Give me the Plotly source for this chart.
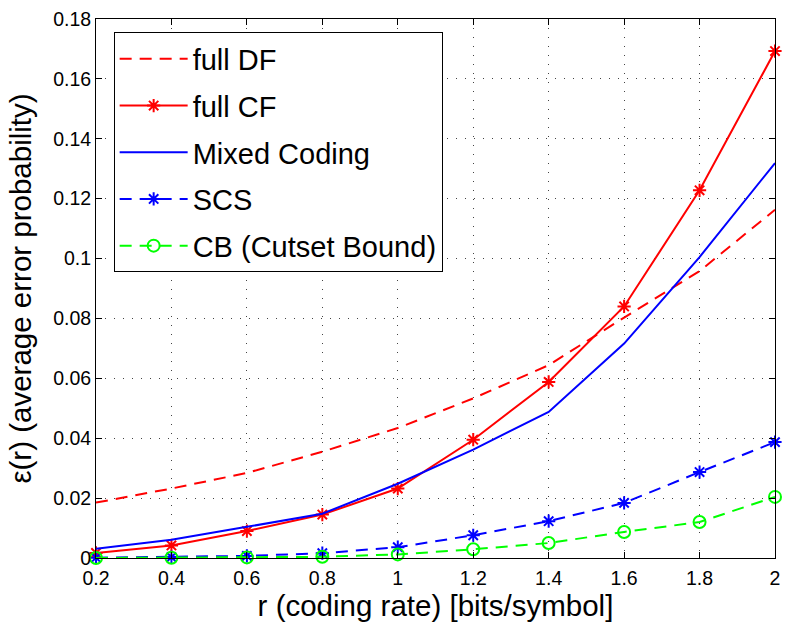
import plotly.graph_objects as go

rate = [0.2, 0.4, 0.6, 0.8, 1.0, 1.2, 1.4, 1.6, 1.8, 2.0]
full_df = [0.0185, 0.0232, 0.0284, 0.0355, 0.0434, 0.0533, 0.0644, 0.0803, 0.0958, 0.1163]
full_cf = [0.0017, 0.0042, 0.0090, 0.0145, 0.0232, 0.0395, 0.0588, 0.0840, 0.1228, 0.1693]
mixed = [0.0031, 0.0061, 0.0104, 0.0148, 0.0248, 0.0362, 0.0488, 0.0716, 0.1005, 0.1319]
scs = [0.0001, 0.0003, 0.0007, 0.0016, 0.0036, 0.0076, 0.0123, 0.0184, 0.0287, 0.0387]
cb = [0.0000, 0.0001, 0.0002, 0.0004, 0.0012, 0.0029, 0.0050, 0.0087, 0.0120, 0.0204]

x_ticks = [0.2, 0.4, 0.6, 0.8, 1.0, 1.2, 1.4, 1.6, 1.8, 2.0]
x_labels = ["0.2", "0.4", "0.6", "0.8", "1", "1.2", "1.4", "1.6", "1.8", "2"]
y_ticks = [0, 0.02, 0.04, 0.06, 0.08, 0.10, 0.12, 0.14, 0.16, 0.18]
y_labels = ["0", "0.02", "0.04", "0.06", "0.08", "0.1", "0.12", "0.14", "0.16", "0.18"]

RED = "#ff0000"
BLUE = "#0000ff"
GREEN = "#00ff00"
DASH = "12px,8px"
FONT = "Liberation Sans, Arial"

fig = go.Figure()
fig.add_trace(go.Scatter(x=rate, y=full_df, name="full DF", mode="lines",
                         line=dict(color=RED, width=2, dash=DASH),
                         legendgroup="a", cliponaxis=False))
fig.add_trace(go.Scatter(x=rate, y=full_cf, name="full CF", mode="lines+markers",
                         line=dict(color=RED, width=2),
                         marker=dict(symbol="asterisk-open", size=11,
                                     line=dict(color=RED, width=2)),
                         legendgroup="b", cliponaxis=False))
fig.add_trace(go.Scatter(x=rate, y=mixed, name="Mixed Coding", mode="lines",
                         line=dict(color=BLUE, width=2),
                         legendgroup="c", cliponaxis=False))
fig.add_trace(go.Scatter(x=rate, y=scs, name="SCS", mode="lines+markers",
                         line=dict(color=BLUE, width=2, dash=DASH),
                         marker=dict(symbol="asterisk-open", size=11,
                                     line=dict(color=BLUE, width=2)),
                         legendgroup="d", cliponaxis=False))
fig.add_trace(go.Scatter(x=rate, y=cb, name="CB (Cutset Bound)", mode="lines+markers",
                         line=dict(color=GREEN, width=2, dash=DASH),
                         marker=dict(symbol="circle-open", size=12,
                                     line=dict(color=GREEN, width=2)),
                         legendgroup="e", cliponaxis=False))

axis_common = dict(
    showline=True, linecolor="black", linewidth=1, mirror="ticks",
    ticks="inside", ticklen=6, tickcolor="black", tickwidth=1,
    showgrid=True, gridcolor="#444444", gridwidth=1, griddash="1px,8px",
    zeroline=False, tickfont=dict(family=FONT, size=19.5, color="black"),
)

fig.update_xaxes(range=[0.2, 2.0], tickvals=x_ticks, ticktext=x_labels,
                 ticklabelstandoff=3,
                 title=dict(text="r (coding rate) [bits/symbol]",
                            font=dict(family=FONT, size=29.5, color="black"),
                            standoff=2),
                 **axis_common)
fig.update_yaxes(range=[0, 0.18], tickvals=y_ticks, ticktext=y_labels,
                 title=dict(text="ε(r) (average error probability)",
                            font=dict(family=FONT, size=29.5, color="black"),
                            standoff=12),
                 **axis_common)

fig.update_layout(
    width=788, height=625,
    margin=dict(l=96, r=8, t=19, b=67),
    paper_bgcolor="white", plot_bgcolor="white",
    font=dict(family=FONT, color="black"),
    showlegend=True,
    legend=dict(x=0.026, y=0.975, xanchor="left", yanchor="top",
                bgcolor="white", bordercolor="black", borderwidth=1,
                font=dict(family=FONT, size=29, color="black"),
                itemwidth=68, tracegroupgap=6, traceorder="grouped"),
)

fig.write_html("out.html")
